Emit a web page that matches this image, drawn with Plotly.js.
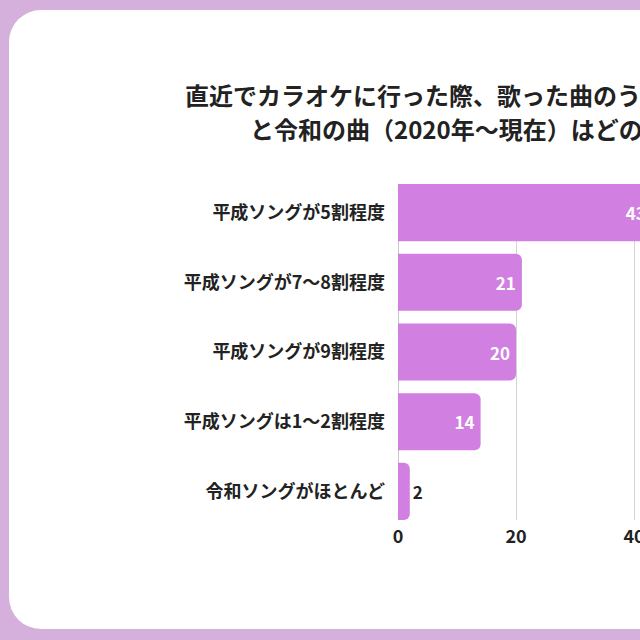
<!DOCTYPE html>
<html>
<head>
<meta charset="utf-8">
<script src="https://cdn.plot.ly/plotly-3.0.1.min.js"></script>
<style>
  html, body { margin:0; padding:0; width:640px; height:640px; overflow:hidden; background:#d6b0dc; }
  #card { position:absolute; left:9px; top:10px; width:1200px; height:619px; background:#ffffff; border-radius:32px; }
  #chart { position:absolute; left:0; top:0; width:1150px; height:640px; }
</style>
</head>
<body>
<div id="card"></div>
<div id="chart"></div>
<script>
const categories = ["平成ソングが5割程度", "平成ソングが7〜8割程度", "平成ソングが9割程度", "平成ソングは1〜2割程度", "令和ソングがほとんど"];
const values = [43, 21, 20, 14, 2];
const tickValues = [0, 20, 40, 60];
const titleLine1 = "直近でカラオケに行った際、歌った曲のうち平成の曲（1989年〜2019年）";
const titleLine2 = "と令和の曲（2020年〜現在）はどのくらいの割合でしたか？";

const font = { family: "Noto Sans CJK JP, Noto Sans, sans-serif", weight: "bold", color: "#222222" };

const trace = {
  type: "bar",
  orientation: "h",
  y: categories,
  x: values,
  marker: { color: "#d17fe1", cornerradius: 6 },
  text: values.map(String),
  textposition: "auto",
  textangle: 0,
  insidetextanchor: "end",
  insidetextfont: Object.assign({}, font, { color: "#ffffff", size: 17 }),
  outsidetextfont: Object.assign({}, font, { size: 17 }),
  cliponaxis: false,
  hoverinfo: "none"
};

const layout = {
  width: 1150,
  height: 640,
  margin: { l: 398, r: 398, t: 184, b: 120 },
  paper_bgcolor: "rgba(0,0,0,0)",
  plot_bgcolor: "rgba(0,0,0,0)",
  showlegend: false,
  bargap: 0.18,
  annotations: [
    { text: titleLine1, xref: "paper", yref: "paper", x: (183 - 398) / 354, y: (520 - 94) / 336,
      xanchor: "left", yanchor: "middle", showarrow: false, font: Object.assign({}, font, { size: 24 }) },
    { text: titleLine2, xref: "paper", yref: "paper", x: (248 - 398) / 354, y: (520 - 129) / 336,
      xanchor: "left", yanchor: "middle", showarrow: false, font: Object.assign({}, font, { size: 24 }) }
  ],
  xaxis: {
    range: [0, 60],
    tickvals: tickValues,
    ticktext: tickValues.map(String),
    showgrid: true,
    gridcolor: "#d4d4d4",
    gridwidth: 1,
    zeroline: true,
    zerolinecolor: "#c8c8c8",
    zerolinewidth: 1,
    showline: false,
    ticks: "",
    ticklabelstandoff: 4,
    tickfont: Object.assign({}, font, { size: 18 }),
    fixedrange: true
  },
  yaxis: {
    type: "category",
    range: [4.41, -0.41],
    showgrid: false,
    zeroline: false,
    showline: false,
    ticks: "",
    ticklabelstandoff: 12,
    tickfont: Object.assign({}, font, { size: 18 }),
    fixedrange: true
  }
};

Plotly.newPlot("chart", [trace], layout, { staticPlot: true, displayModeBar: false });
</script>
</body>
</html>
